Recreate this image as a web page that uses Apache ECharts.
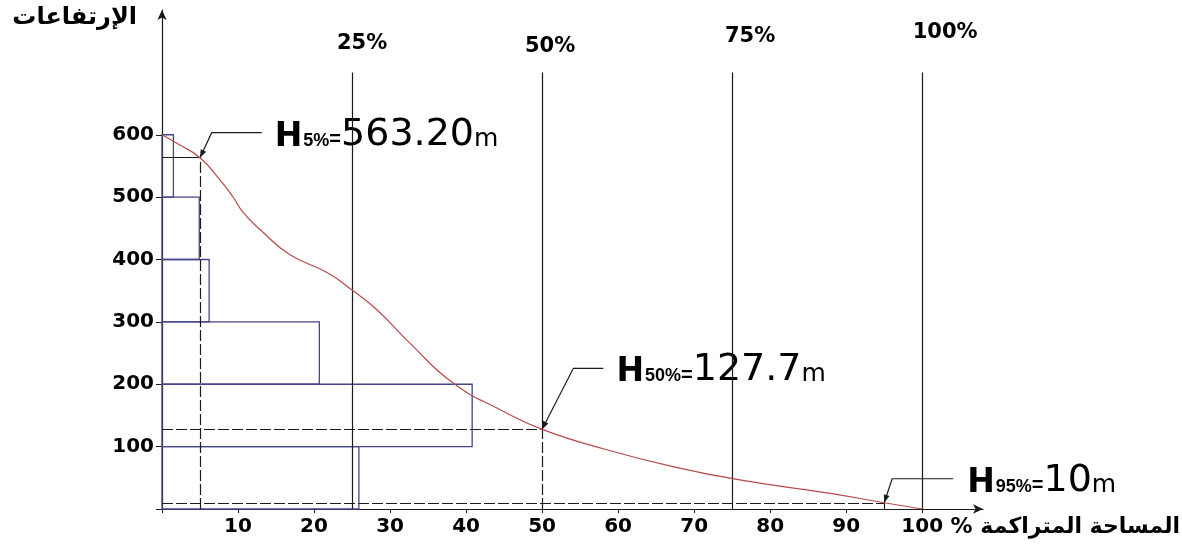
<!DOCTYPE html>
<html>
<head>
<meta charset="utf-8">
<script src="https://cdn.jsdelivr.net/npm/echarts@6/dist/echarts.min.js"></script>
<style>
  html, body { margin: 0; padding: 0; background: #ffffff; }
  #chart { width: 1182px; height: 549px; }
</style>
</head>
<body>
<div id="chart"></div>
<script>
// Hypsometric curve: cumulative area share (%) against elevation (m)
const areaPct   = [0, 2, 5, 7.6, 9.3, 10.7, 12.9, 16.8, 21.7, 25, 28.3, 32.6, 38.3, 44.5, 50, 58.5, 67.2, 76, 87.9, 95, 100];
const elevation = [600, 586, 563.2, 528, 501, 475, 448, 408, 379, 351, 319, 266, 202, 159, 127.7, 95, 68, 46.6, 25, 10, 0];

// Area share of each elevation band (histogram)
const bandFrom  = [0, 100, 200, 300, 400, 500];
const bandTo    = [100, 200, 300, 400, 500, 600];
const bandShare = [25.9, 40.8, 20.7, 6.2, 4.9, 1.5];

// Quartile guide lines
const quartiles   = [25, 50, 75, 100];
const quartileTop = 700;

// Characteristic elevations H5%, H50%, H95%
const markPct    = [5, 50, 95];
const markElev   = [563.2, 127.7, 10];
const markDigits = [2, 1, 0];

// Axis ticks and labels
const xTicks  = [0, 10, 20, 30, 40, 50, 60, 70, 80, 90, 100];
const xLabels = [10, 20, 30, 40, 50, 60, 70, 80, 90, 100];
const yTicks  = [0, 100, 200, 300, 400, 500, 600];
const yLabels = [100, 200, 300, 400, 500, 600];

const yTitle = 'الإرتفاعات';
const xTitle = '% المساحة المتراكمة';

// ---- layout / styling ----
const INK = '#1a1a1a';
const BAND = '#45458a';
const CURVE = '#b84a4c';
// offset of each quartile label from the top of its guide line (px)
const quartileLabelShift = [[10, -29], [8, -26], [18, -36], [23, -40]];
const leaderLayout = [
  { dx: 11.7, dy: -25, len: 50, gap: 13 },
  { dx: 31.3, dy: -61, len: 30, gap: 13 },
  { dx: 8,    dy: -24, len: 61, gap: 14 }
];
const axisFont = { fontFamily: 'DejaVu Sans', fontWeight: 'bold', fontSize: 20, color: '#000' };

const chart = echarts.init(document.getElementById('chart'), null, { renderer: 'canvas' });

const curveData = areaPct.map((p, i) => [p, elevation[i]]);
const bandData = bandFrom.map((lo, i) => [lo, bandTo[i], bandShare[i]]);

const mid = markPct.indexOf(50);
const solidSegs = quartiles.map(q => ({
  coords: [[q, q === markPct[mid] ? markElev[mid] : 0], [q, quartileTop]]
}));
solidSegs.push({ coords: [[0, markElev[0]], [markPct[0], markElev[0]]] });

const dashedSegs = [];
markPct.forEach((p, i) => {
  if (i > 0) dashedSegs.push({ coords: [[0, markElev[i]], [p, markElev[i]]] });
  dashedSegs.push({ coords: [[p, 0], [p, markElev[i]]] });
});

chart.setOption({
  animation: false,
  backgroundColor: '#ffffff',
  grid: { left: 162, right: 199, top: 10, bottom: 40, containLabel: false },
  xAxis: {
    type: 'value', min: 0, max: 108,
    axisLine: { show: true, symbol: ['none', 'arrow'], symbolSize: [7, 10], lineStyle: { color: INK, width: 1.2 } },
    axisTick: { show: true, inside: false, length: 4, customValues: xTicks, lineStyle: { color: INK } },
    axisLabel: Object.assign({ customValues: xLabels, margin: 8 }, axisFont),
    splitLine: { show: false }
  },
  yAxis: {
    type: 'value', min: 0, max: 800,
    axisLine: { show: true, symbol: ['none', 'arrow'], symbolSize: [7, 10], lineStyle: { color: INK, width: 1.2 } },
    axisTick: { show: true, inside: false, length: 6, customValues: yTicks, lineStyle: { color: INK } },
    axisLabel: Object.assign({ customValues: yLabels, margin: 8 }, axisFont),
    splitLine: { show: false }
  },
  series: [
    {
      type: 'custom',
      name: 'bands',
      clip: false,
      data: bandData,
      renderItem: function (params, api) {
        const p0 = api.coord([0, api.value(1)]);
        const p1 = api.coord([api.value(2), api.value(0)]);
        return {
          type: 'rect',
          shape: { x: p0[0], y: p0[1], width: p1[0] - p0[0], height: p1[1] - p0[1] },
          style: { fill: 'none', stroke: BAND, lineWidth: 1.3 }
        };
      }
    },
    {
      type: 'lines', coordinateSystem: 'cartesian2d', name: 'guides',
      data: solidSegs, symbol: 'none',
      lineStyle: { color: INK, width: 1.2, opacity: 1 }
    },
    {
      type: 'lines', coordinateSystem: 'cartesian2d', name: 'marks',
      data: dashedSegs, symbol: 'none',
      lineStyle: { color: INK, width: 1.2, opacity: 1, type: [11, 3] }
    },
    {
      type: 'line', name: 'curve',
      data: curveData, smooth: 0.5, showSymbol: false,
      lineStyle: { color: CURVE, width: 1.2 }
    }
  ]
});

const graphics = [];

// Quartile captions above the guide lines
quartiles.forEach((q, i) => {
  const top = chart.convertToPixel({ gridIndex: 0 }, [q, quartileTop]);
  graphics.push({
    type: 'text',
    x: top[0] + quartileLabelShift[i][0], y: top[1] + quartileLabelShift[i][1],
    style: {
      text: q + '%', fontFamily: 'DejaVu Sans', fontWeight: 'bold', fontSize: 21,
      fill: '#000', align: 'center', verticalAlign: 'middle'
    }
  });
});

// Leader lines, arrow heads and H labels anchored to the marked points
const richStyle = {
  h: { fontFamily: 'DejaVu Sans', fontWeight: 'bold', fontSize: 33, lineHeight: 34, verticalAlign: 'bottom', fill: '#000' },
  s: { fontFamily: 'Liberation Sans', fontWeight: 'bold', fontSize: 18, lineHeight: 18, verticalAlign: 'bottom', padding: [0, 0, 4, 1], fill: '#000' },
  e: { fontFamily: 'Liberation Sans', fontWeight: 'bold', fontSize: 20, lineHeight: 20, verticalAlign: 'bottom', padding: [0, 0, 4, 0], fill: '#000' },
  n: { fontFamily: 'DejaVu Sans', fontSize: 38, lineHeight: 38, verticalAlign: 'bottom', fill: '#000' },
  u: { fontFamily: 'DejaVu Sans', fontSize: 25, lineHeight: 25, verticalAlign: 'bottom', padding: [0, 0, 2, 0], fill: '#000' }
};

markPct.forEach((p, i) => {
  const pt = chart.convertToPixel({ gridIndex: 0 }, [p, markElev[i]]);
  const L = leaderLayout[i];
  const elbow = [pt[0] + L.dx, pt[1] + L.dy];
  const end = [elbow[0] + L.len, elbow[1]];
  graphics.push({
    type: 'polyline',
    shape: { points: [end, elbow, pt] },
    style: { stroke: INK, lineWidth: 1.2, fill: 'none' }
  });
  // arrow head pointing at the mark
  const ang = Math.atan2(pt[1] - elbow[1], pt[0] - elbow[0]);
  const aL = 8, aW = 3;
  const bx = pt[0] - aL * Math.cos(ang), by = pt[1] - aL * Math.sin(ang);
  graphics.push({
    type: 'polygon',
    shape: { points: [pt, [bx + aW * Math.sin(ang), by - aW * Math.cos(ang)], [bx - aW * Math.sin(ang), by + aW * Math.cos(ang)]] },
    style: { fill: INK }
  });
  graphics.push({
    type: 'text',
    x: end[0] + L.gap, y: elbow[1] + 2,
    style: {
      text: '{h|H}{s|' + p + '%}{e|=}{n|' + markElev[i].toFixed(markDigits[i]) + '}{u|m}',
      rich: richStyle,
      verticalAlign: 'middle', align: 'left'
    }
  });
});

graphics.push({
  type: 'text', x: 137, y: 18,
  style: { text: yTitle, fontFamily: 'DejaVu Sans', fontWeight: 'bold', fontSize: 24, fill: '#000', align: 'right', verticalAlign: 'middle' }
});
graphics.push({
  type: 'text', x: 1180, y: 527,
  style: { text: xTitle, fontFamily: 'DejaVu Sans', fontWeight: 'bold', fontSize: 22, fill: '#000', align: 'right', verticalAlign: 'middle' }
});

chart.setOption({ graphic: graphics });
</script>
</body>
</html>
